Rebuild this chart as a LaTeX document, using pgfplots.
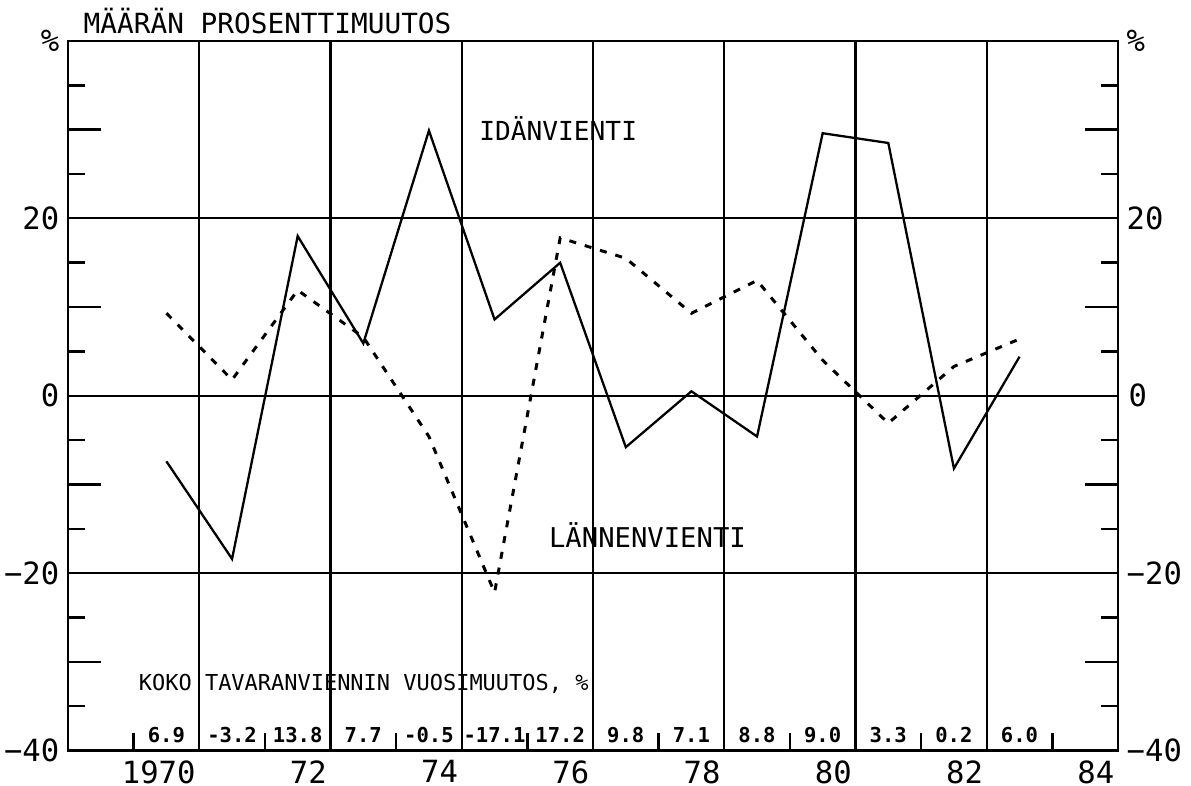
\documentclass[border=0pt]{standalone}
\usepackage{fontspec}
\setmainfont{DejaVu Sans Mono}
\usepackage{pgfplots}
\usepackage{pgfplotstable}
\pgfplotsset{compat=1.18}

% volume change, %
\pgfplotstableread{
year idan lannen
1970 -7.4  9.3
1971 -18.4 1.8
1972 18.0  11.9
1973 5.9   6.6
1974 29.9  -4.6
1975 8.6   -22.2
1976 15.0  17.8
1977 -5.8  15.5
1978 0.5   9.3
1979 -4.6  13.0
1980 29.6  4.0
1981 28.5  -3.1
1982 -8.2  3.3
1983 4.4   6.4
}\exports

\newcommand\numfont{\bfseries\fontsize{5.85}{7}\selectfont}
\newcommand\tickfont{\fontsize{8.7}{10}\selectfont}

\begin{document}
\begin{tikzpicture}
\begin{axis}[
    name=ax, at={(0,0)}, anchor=south west,
    width=10.5cm, height=7.095cm, scale only axis,
    xmin=1968.5, xmax=1984.5, ymin=-40, ymax=40,
    xtick={1970.5,1972.5,1974.5,1976.5,1978.5,1980.5,1982.5,1984.5},
    xticklabels={1970,72,74,76,78,80,82,84},
    minor xtick={1969.5,1971.5,1973.5,1975.5,1977.5,1979.5,1981.5,1983.5},
    ytick={-40,-20,0,20,40},
    yticklabels={−40,−20,0,20,\%},
    minor ytick={-35,-25,-15,-5,5,15,25,35},
    extra y ticks={-30,-10,10,30},
    extra y tick labels={},
    extra y tick style={major tick length=0.33cm, grid=none},
    major tick length=0pt, minor tick length=0.175cm,
    xtick pos=left,
    xmajorgrids, ymajorgrids,
    grid style={line width=0.6pt, black},
    axis line style={line width=0.8pt},
    tick style={line width=0.7pt, black},
    ticklabel style={font=\tickfont},
    xticklabel style={anchor=north east, inner sep=0pt, yshift=-0.095cm, xshift=-0.03cm},
    yticklabel style={inner sep=0pt, xshift=-0.08cm},
    clip=false,
]
\addplot[black, line width=0.65pt] table[x=year, y=idan] {\exports};
\addplot[black, line width=0.85pt, dash pattern=on 0.07cm off 0.09cm] table[x=year, y=lannen] {\exports};

\node[anchor=base west, font=\fontsize{7.9}{9}\selectfont] at (axis cs:1968.55,40.85) {MÄÄRÄN PROSENTTIMUUTOS};
\node[anchor=base, font=\fontsize{7.45}{9}\selectfont] at (axis cs:1975.97,28.8) {IDÄNVIENTI};
\node[anchor=base, font=\fontsize{7.75}{9}\selectfont] at (axis cs:1977.33,-17.1) {LÄNNENVIENTI};
\node[anchor=base west, inner sep=0pt, font=\fontsize{6.25}{8}\selectfont] at (axis cs:1969.57,-33.2) {KOKO TAVARANVIENNIN VUOSIMUUTOS, \%};

% total exports, yearly change %
\node[anchor=base, font=\numfont] at (axis cs:1970,-39.15) {6.9};
\node[anchor=base, font=\numfont] at (axis cs:1971,-39.15) {-3.2};
\node[anchor=base, font=\numfont] at (axis cs:1972,-39.15) {13.8};
\node[anchor=base, font=\numfont] at (axis cs:1973,-39.15) {7.7};
\node[anchor=base, font=\numfont] at (axis cs:1974,-39.15) {-0.5};
\node[anchor=base, font=\numfont] at (axis cs:1975,-39.15) {-17.1};
\node[anchor=base, font=\numfont] at (axis cs:1976,-39.15) {17.2};
\node[anchor=base, font=\numfont] at (axis cs:1977,-39.15) {9.8};
\node[anchor=base, font=\numfont] at (axis cs:1978,-39.15) {7.1};
\node[anchor=base, font=\numfont] at (axis cs:1979,-39.15) {8.8};
\node[anchor=base, font=\numfont] at (axis cs:1980,-39.15) {9.0};
\node[anchor=base, font=\numfont] at (axis cs:1981,-39.15) {3.3};
\node[anchor=base, font=\numfont] at (axis cs:1982,-39.15) {0.2};
\node[anchor=base, font=\numfont] at (axis cs:1983,-39.15) {6.0};

% right-hand scale
\node[anchor=west, inner sep=0pt, xshift=0.08cm, font=\tickfont] at (axis cs:1984.5,40) {\%};
\node[anchor=west, inner sep=0pt, xshift=0.08cm, font=\tickfont] at (axis cs:1984.5,20) {20};
\node[anchor=west, inner sep=0pt, xshift=0.1cm, font=\tickfont] at (axis cs:1984.5,0) {0};
\node[anchor=west, inner sep=0pt, xshift=0.08cm, font=\tickfont] at (axis cs:1984.5,-20) {−20};
\node[anchor=west, inner sep=0pt, xshift=0.08cm, font=\tickfont] at (axis cs:1984.5,-40) {−40};
\end{axis}
\pgfresetboundingbox
\path[use as bounding box] (-0.68,-0.355) rectangle (11.23,7.505);
\end{tikzpicture}
\end{document}
